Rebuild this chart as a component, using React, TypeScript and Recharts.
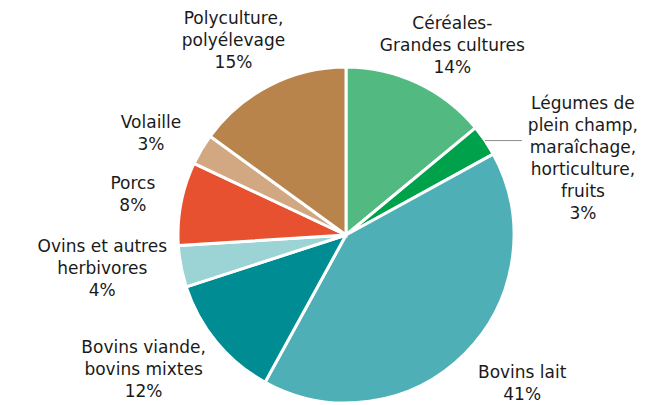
import { PieChart, Pie, Cell } from "recharts";

const categories = [
	"Céréales-|Grandes cultures",
	"Légumes de|plein champ,|maraîchage,|horticulture,|fruits",
	"Bovins lait",
	"Bovins viande,|bovins mixtes",
	"Ovins et autres|herbivores",
	"Porcs",
	"Volaille",
	"Polyculture,|polyélevage",
];

const shares = [14, 3, 41, 12, 4, 8, 3, 15];

const colors = [
	"#52ba80",
	"#00a14b",
	"#4fafb7",
	"#008c93",
	"#9cd3d5",
	"#e8512f",
	"#d1a882",
	"#b8844b",
];

// label placement: distance from centre and clockwise angle tweak (deg), per slice
const labelLayout = [
	{ r: 218, da: 4 },
	{ r: 0, da: 0 },
	{ r: 230, da: -5 },
	{ r: 243, da: 6 },
	{ r: 246, da: 3 },
	{ r: 217, da: 0 },
	{ r: 220, da: -3 },
	{ r: 225, da: -3 },
];

const data = categories.map((name, i) => ({ name, value: shares[i] }));

const RAD = Math.PI / 180;
const LINE_H = 22;

function renderLabel(props: any) {
	const { cx, cy, midAngle, outerRadius, index } = props;
	const lines = [...categories[index].split("|"), `${shares[index]}%`];

	if (index === 1) {
		// small slice: leader line out to the right
		const sx = cx + outerRadius * Math.cos(-midAngle * RAD);
		const sy = cy + outerRadius * Math.sin(-midAngle * RAD);
		const ex = sx + 37;
		const tx = ex + 61;
		const ty = sy + 17;
		return (
			<g key={`lbl-${index}`}>
				<line x1={sx} y1={sy} x2={ex} y2={sy} stroke="#8c8c8c" strokeWidth={1} />
				<text
					x={tx}
					y={ty - ((lines.length - 1) * LINE_H) / 2}
					textAnchor="middle"
					dominantBaseline="central"
					fill="#1a1a1a"
					fontSize={17}
				>
					{lines.map((l, j) => (
						<tspan key={j} x={tx} dy={j === 0 ? 0 : LINE_H}>
							{l}
						</tspan>
					))}
				</text>
			</g>
		);
	}

	const lay = labelLayout[index];
	const a = midAngle - lay.da;
	const x = cx + lay.r * Math.cos(-a * RAD);
	const y = cy + lay.r * Math.sin(-a * RAD);
	return (
		<text
			key={`lbl-${index}`}
			x={x}
			y={y - ((lines.length - 1) * LINE_H) / 2}
			textAnchor="middle"
			dominantBaseline="central"
			fill="#1a1a1a"
			fontSize={17}
		>
			{lines.map((l, j) => (
				<tspan key={j} x={x} dy={j === 0 ? 0 : LINE_H}>
					{l}
				</tspan>
			))}
		</text>
	);
}

export default function App() {
	return (
		<div
			style={{
				position: "absolute",
				left: 0,
				top: 0,
				fontFamily: "'DejaVu Sans', Verdana, sans-serif",
			}}
		>
			<PieChart
				width={658}
				height={405}
				margin={{ top: 0, right: 0, bottom: 0, left: 0 }}
			>
				<Pie
					data={data}
					dataKey="value"
					nameKey="name"
					cx={346}
					cy={235}
					outerRadius={168}
					startAngle={90}
					endAngle={-270}
					stroke="#ffffff"
					strokeWidth={3}
					label={renderLabel}
					labelLine={false}
					isAnimationActive={false}
				>
					{data.map((d, i) => (
						<Cell key={d.name} fill={colors[i]} />
					))}
				</Pie>
			</PieChart>
		</div>
	);
}
